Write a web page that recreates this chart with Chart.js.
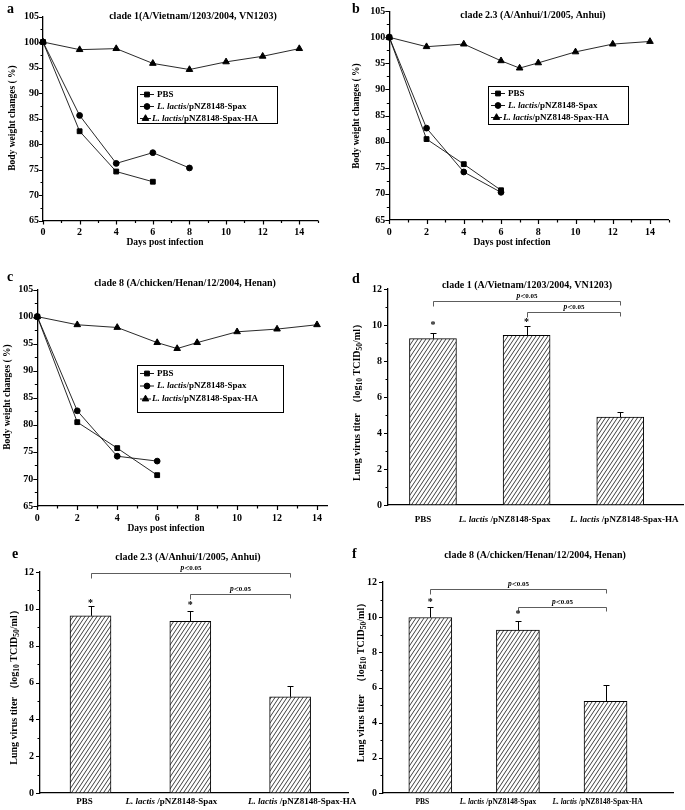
<!DOCTYPE html>
<html>
<head>
<meta charset="utf-8">
<script src="https://cdn.jsdelivr.net/npm/chart.js@4.4.1/dist/chart.umd.min.js"></script>
<style>
body { margin: 0; background: #fff; }
#page { position: relative; width: 685px; height: 810px; overflow: hidden; }
#page canvas { position: absolute; left: 0; top: 0; }
</style>
</head>
<body>
<div id="page">
<canvas id="chart-a" width="685" height="810"></canvas>
<canvas id="chart-b" width="685" height="810"></canvas>
<canvas id="chart-c" width="685" height="810"></canvas>
<canvas id="chart-d" width="685" height="810"></canvas>
<canvas id="chart-e" width="685" height="810"></canvas>
<canvas id="chart-f" width="685" height="810"></canvas>
</div>
<script>
// body weight (% of day 0)
const daysA = [0, 2, 4, 6, 8, 10, 12, 14];
const pbsA = [100, 82.5, 74.6, 72.6];
const spaxA = [100, 85.6, 76.2, 78.3, 75.3];
const haA = [100, 98.5, 98.7, 95.8, 94.6, 96.1, 97.2, 98.7];

const daysB = [0, 2, 4, 6, 7, 8, 10, 12, 14];
const pbsB = [100, 80.5, 75.7, 70.7];
const spaxB = [100, 82.6, 74.2, 70.3];
const haB = [100, 98.2, 98.7, 95.5, 94.1, 95.1, 97.2, 98.7, 99.2];

const daysC = [0, 2, 4, 6, 7, 8, 10, 12, 14];
const pbsC = [100, 80.5, 75.7, 70.7];
const spaxC = [100, 82.6, 74.2, 73.3];
const haC = [100, 98.5, 98.0, 95.2, 94.1, 95.2, 97.2, 97.7, 98.5];

// lung virus titer (log10 TCID50/ml)
const titerD = [9.24, 9.42, 4.88];
const errD = [0.32, 0.5, 0.3];
const starsD = [10.1, 10.24];
const bracketsD = [[0, 2, 11.35], [1, 2, 10.74]];

const titerE = [9.62, 9.32, 5.22];
const errE = [0.56, 0.55, 0.59];
const starsE = [10.42, 10.29];
const bracketsE = [[0, 2, 11.93], [1, 2, 10.78]];

const titerF = [9.98, 9.26, 5.22];
const errF = [0.58, 0.55, 0.9];
const starsF = [10.98, 10.26];
const bracketsF = [[0, 2, 11.63], [1, 2, 10.6]];

const seriesNames = ['PBS', 'L. lactis/pNZ8148-Spax', 'L. lactis/pNZ8148-Spax-HA'];
const groupNames = ['PBS', 'L. lactis /pNZ8148-Spax', 'L. lactis /pNZ8148-Spax-HA'];
const dayTicks = [0, 2, 4, 6, 8, 10, 12, 14];
const weightTicks = [65, 70, 75, 80, 85, 90, 95, 100, 105];
const titerTicks = [0, 2, 4, 6, 8, 10, 12];

const titles = [
    'clade 1(A/Vietnam/1203/2004, VN1203)',
    'clade 2.3 (A/Anhui/1/2005, Anhui)',
    'clade 8 (A/chicken/Henan/12/2004, Henan)',
    'clade 1 (A/Vietnam/1203/2004, VN1203)',
    'clade 2.3 (A/Anhui/1/2005, Anhui)',
    'clade 8 (A/chicken/Henan/12/2004, Henan)',
];

const SERIF = '"Liberation Serif", "Times New Roman", serif';
const AXW = 30, AXH = 25;
const markerStyles = ['rect', 'circle', 'triangle'];
const markerSizes = [3.4, 2.9, 3.8];

let chartA, chartB, chartC, chartD, chartE, chartF;

function font(size, style) {
    return `${style || ''} bold ${size}px ${SERIF}`;
}

function nameParts(name, size) {
    if (name.startsWith('L. lactis')) {
        return [['L. lactis', font(size, 'italic')], [name.slice(9), font(size)]];
    }
    return [[name, font(size)]];
}

// draws a run of text pieces with different fonts
function drawParts(ctx, parts, x, y, align) {
    let w = 0;
    parts.forEach(p => { ctx.font = p[1]; w += ctx.measureText(p[0]).width; });
    let cx = align === 'center' ? x - w / 2 : x;
    ctx.textAlign = 'left';
    parts.forEach(p => {
        ctx.font = p[1];
        ctx.fillText(p[0], cx, y + (p[2] || 0));
        cx += ctx.measureText(p[0]).width;
    });
}

function drawMarker(ctx, style, r, x, y) {
    ctx.beginPath();
    if (style === 'rect') {
        const s = Math.SQRT1_2 * r;
        ctx.rect(x - s, y - s, 2 * s, 2 * s);
    } else if (style === 'circle') {
        ctx.arc(x, y, r, 0, Math.PI * 2);
    } else {
        ctx.moveTo(x, y - r);
        ctx.lineTo(x + r * 0.866, y + r / 2);
        ctx.lineTo(x - r * 0.866, y + r / 2);
        ctx.closePath();
    }
    ctx.fill();
    ctx.stroke();
}

// major ticks on the library ticks, minor ones half way between
function drawAxisTicks(ctx, scale) {
    const vals = scale.ticks.map(t => t.value);
    const step = vals[1] - vals[0];
    const minors = vals.map(v => v + step / 2).filter(v => v <= scale.max + 1e-9);
    ctx.beginPath();
    [[vals, 4], [minors, 2.5]].forEach(([list, len]) => {
        list.forEach(v => {
            const p = Math.round(scale.getPixelForValue(v)) + 0.5;
            if (scale.isHorizontal()) {
                ctx.moveTo(p, scale.top);
                ctx.lineTo(p, scale.top + len);
            } else {
                ctx.moveTo(scale.right, p);
                ctx.lineTo(scale.right - len, p);
            }
        });
    });
    ctx.stroke();
}

const panelDeco = {
    id: 'panelDeco',
    afterDatasetsDraw(chart, args, opts) {
        const ctx = chart.ctx;
        const xs = chart.scales.x, ys = chart.scales.y;
        ctx.save();
        ctx.fillStyle = '#000';
        ctx.strokeStyle = '#000';
        ctx.lineWidth = 1.2;
        ctx.textBaseline = 'middle';

        drawParts(ctx, [[opts.letter, font(14)]], opts.letterAt[0], opts.letterAt[1], 'left');
        drawParts(ctx, [[opts.title, font(10)]], opts.titleAt[0], opts.titleAt[1], 'center');
        if (opts.xTitle) {
            drawParts(ctx, [[opts.xTitle, font(9.5)]], opts.xTitleAt[0], opts.xTitleAt[1], 'center');
        }
        ctx.save();
        ctx.translate(opts.yTitleAt[0], opts.yTitleAt[1]);
        ctx.rotate(-Math.PI / 2);
        drawParts(ctx, opts.yTitle, 0, 0, 'center');
        ctx.restore();

        if (opts.xTicks) drawAxisTicks(ctx, xs);
        drawAxisTicks(ctx, ys);

        ctx.lineWidth = 1;
        if (opts.legendBox) {
            const [l, t, r, b] = opts.legendBox;
            ctx.strokeRect(Math.round(l) + 0.5, Math.round(t) + 0.5, r - l, b - t);
            opts.legendRows.forEach((y, i) => {
                ctx.beginPath();
                ctx.lineWidth = 0.9;
                ctx.moveTo(l + 3, y);
                ctx.lineTo(l + opts.legendLine[i], y);
                ctx.stroke();
                ctx.lineWidth = 1;
                drawMarker(ctx, markerStyles[i], markerSizes[i], l + 3 + (opts.legendLine[i] - 3) / 2, y);
                drawParts(ctx, nameParts(seriesNames[i], 9), l + opts.legendText[i], y, 'left');
            });
        }

        if (opts.bars) {
            const data = chart.data.datasets[0].data;
            // error bars, upper side only
            ctx.beginPath();
            opts.err.forEach((e, i) => {
                const x = Math.round(xs.getPixelForValue(data[i].x)) + 0.5;
                const y0 = ys.getPixelForValue(data[i].y);
                const y1 = Math.round(ys.getPixelForValue(data[i].y + e)) + 0.5;
                ctx.moveTo(x, y0);
                ctx.lineTo(x, y1);
                ctx.moveTo(x - 3, y1);
                ctx.lineTo(x + 3, y1);
            });
            ctx.stroke();
            opts.stars.forEach((v, i) => {
                drawParts(ctx, [['*', font(10)]], xs.getPixelForValue(i), ys.getPixelForValue(v) + 2, 'center');
            });
            ctx.lineWidth = 0.8;
            ctx.strokeStyle = '#333';
            opts.brackets.forEach(([a, b, v]) => {
                const x0 = Math.round(xs.getPixelForValue(a)) + 0.5;
                const x1 = Math.round(xs.getPixelForValue(b)) + 0.5;
                const y = Math.round(ys.getPixelForValue(v)) + 0.5;
                ctx.beginPath();
                ctx.moveTo(x0, y + 5);
                ctx.lineTo(x0, y);
                ctx.lineTo(x1, y);
                ctx.lineTo(x1, y + 4);
                ctx.stroke();
                drawParts(ctx, [['p', font(7.5, 'italic')], ['<', font(9)], ['0.05', font(7)]], (x0 + x1) / 2, y - 5, 'center');
            });
            groupNames.forEach((name, i) => {
                drawParts(ctx, nameParts(name, opts.labelSize), xs.getPixelForValue(i) + opts.labelShift[i], opts.labelY, 'center');
            });
        }
        ctx.restore();
    }
};

function areaLayout(box) {
    return { padding: { left: box[0] - AXW, top: box[1], right: 685 - box[2], bottom: 810 - box[3] - AXH } };
}

function xy(xs, ys) {
    return ys.map((y, i) => ({ x: xs[i], y: y }));
}

function makeHatch() {
    const tile = document.createElement('canvas');
    tile.width = 4;
    tile.height = 6;
    const g = tile.getContext('2d');
    g.fillStyle = '#fff';
    g.fillRect(0, 0, 4, 6);
    g.strokeStyle = '#2a2a2a';
    g.lineWidth = 0.9;
    [-4, 0, 4].forEach(o => {
        g.beginPath();
        g.moveTo(o, 6);
        g.lineTo(o + 4, 0);
        g.stroke();
    });
    return g.createPattern(tile, 'repeat');
}

const axisBorder = { color: '#000', width: 1.3 };
const noGrid = { display: false, drawTicks: false };

function makeWeightChart(id, box, xMax, days, series, deco) {
    const ctx = document.getElementById(id).getContext('2d');
    return new Chart(ctx, {
        type: 'line',
        data: {
            datasets: series.map((vals, i) => ({
                label: seriesNames[i],
                data: xy(days, vals),
                borderColor: '#111',
                borderWidth: 0.9,
                pointStyle: markerStyles[i],
                pointRadius: markerSizes[i],
                pointBackgroundColor: '#000',
                pointBorderColor: '#000',
                pointBorderWidth: 1,
                tension: 0,
                fill: false,
                clip: false,
            })),
        },
        options: {
            responsive: false,
            animation: false,
            events: [],
            layout: areaLayout(box),
            plugins: {
                legend: { display: false },
                tooltip: { enabled: false },
                panelDeco: Object.assign({
                    xTicks: true,
                    xTitle: 'Days post infection',
                    yTitle: [['Body weight changes ( %)', font(9.5)]],
                    legendLine: [17, 17, 14],
                    legendText: [20, 20, 15],
                }, deco),
            },
            scales: {
                x: {
                    type: 'linear', min: 0, max: xMax,
                    afterFit: s => { s.height = AXH; },
                    afterBuildTicks: s => { s.ticks = dayTicks.map(v => ({ value: v })); },
                    grid: noGrid,
                    border: axisBorder,
                    ticks: { autoSkip: false, maxRotation: 0, padding: 6, color: '#000', font: { family: SERIF, weight: 'bold', size: 10 } },
                },
                y: {
                    type: 'linear', min: 65, max: 105,
                    afterFit: s => { s.width = AXW; },
                    afterBuildTicks: s => { s.ticks = weightTicks.map(v => ({ value: v })); },
                    grid: noGrid,
                    border: axisBorder,
                    ticks: { autoSkip: false, padding: 4, color: '#000', font: { family: SERIF, weight: 'bold', size: 10 } },
                },
            },
        },
        plugins: [panelDeco],
    });
}

function makeTiterChart(id, box, range, titers, barWidth, deco) {
    const ctx = document.getElementById(id).getContext('2d');
    return new Chart(ctx, {
        type: 'bar',
        data: {
            datasets: [{
                label: 'Lung virus titer',
                data: xy([0, 1, 2], titers),
                backgroundColor: makeHatch(),
                borderColor: '#000',
                borderWidth: 1,
                borderSkipped: false,
                barThickness: barWidth,
            }],
        },
        options: {
            responsive: false,
            animation: false,
            events: [],
            layout: areaLayout(box),
            plugins: {
                legend: { display: false },
                tooltip: { enabled: false },
                panelDeco: Object.assign({ bars: true }, deco),
            },
            scales: {
                x: {
                    type: 'linear', min: range[0], max: range[1], offset: false,
                    afterFit: s => { s.height = AXH; },
                    grid: noGrid,
                    border: axisBorder,
                    ticks: { display: false },
                },
                y: {
                    type: 'linear', min: 0, max: 12,
                    afterFit: s => { s.width = AXW; },
                    afterBuildTicks: s => { s.ticks = titerTicks.map(v => ({ value: v })); },
                    grid: noGrid,
                    border: axisBorder,
                    ticks: { autoSkip: false, padding: 6, color: '#000', font: { family: SERIF, weight: 'bold', size: 10 } },
                },
            },
        },
        plugins: [panelDeco],
    });
}

function titerTitle(gap) {
    return [
        ['Lung virus titer' + gap + '（log', font(10)],
        ['10', font(7.5), 3],
        [' TCID', font(10)],
        ['50', font(7.5), 3],
        ['/ml）', font(10)],
    ];
}

chartA = makeWeightChart('chart-a', [43, 16.5, 317.6, 220.5], 15, daysA, [pbsA, spaxA, haA], {
    letter: 'a', letterAt: [7, 9], title: titles[0], titleAt: [193, 16],
    xTitleAt: [165, 243], yTitleAt: [13, 118],
    legendBox: [137, 86, 277, 123], legendRows: [94.5, 106.5, 118.5],
});

chartB = makeWeightChart('chart-b', [389.3, 11.2, 668.6, 220], 15, daysB, [pbsB, spaxB, haB], {
    letter: 'b', letterAt: [352, 9], title: titles[1], titleAt: [533, 15],
    xTitleAt: [512, 243], yTitleAt: [357, 116],
    legendBox: [488, 86, 628, 124], legendRows: [93.5, 105.5, 117.5],
});

chartC = makeWeightChart('chart-c', [37.3, 289.6, 327, 506], 14.5, daysC, [pbsC, spaxC, haC], {
    letter: 'c', letterAt: [7, 277], title: titles[2], titleAt: [185, 283],
    xTitleAt: [166, 529], yTitleAt: [8, 397],
    legendBox: [137, 365, 283, 412], legendRows: [373.5, 386, 399],
});

chartD = makeTiterChart('chart-d', [388, 289, 683, 505], [-0.48, 2.67], titerD, 47, {
    letter: 'd', letterAt: [352, 279], title: titles[3], titleAt: [527, 285],
    yTitle: titerTitle('  '), yTitleAt: [357, 400],
    err: errD, stars: starsD, brackets: bracketsD,
    labelY: 520, labelSize: 9, labelShift: [-10, -22, 4],
});

chartE = makeTiterChart('chart-e', [40, 572, 348, 793], [-0.506, 2.58], titerE, 41, {
    letter: 'e', letterAt: [12, 554], title: titles[4], titleAt: [188, 557],
    yTitle: titerTitle(' '), yTitleAt: [14, 685],
    err: errE, stars: starsE, brackets: bracketsE,
    labelY: 802, labelSize: 9, labelShift: [-6, -19, 12],
});

chartF = makeTiterChart('chart-f', [383, 582, 673, 793], [-0.54, 2.77], titerF, 43, {
    letter: 'f', letterAt: [352, 554], title: titles[5], titleAt: [535, 555],
    yTitle: titerTitle('   '), yTitleAt: [361, 680],
    err: errF, stars: starsF, brackets: bracketsF,
    labelY: 802, labelSize: 7.5, labelShift: [-8, -20, -8],
});
</script>
</body>
</html>
